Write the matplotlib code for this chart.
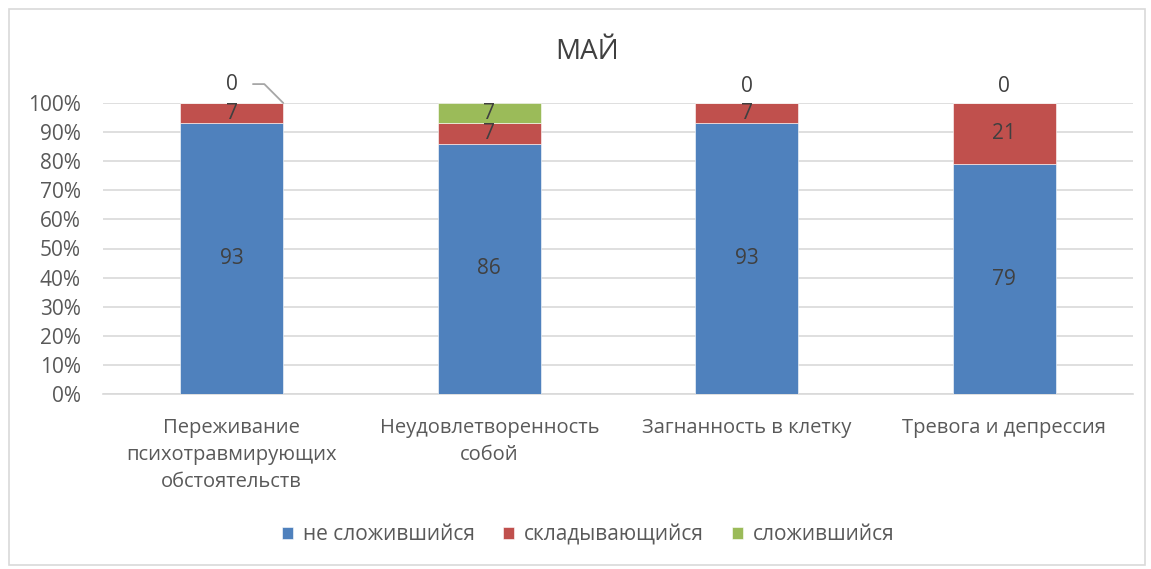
import matplotlib
matplotlib.use("Agg")
import matplotlib.pyplot as plt
from matplotlib.patches import Rectangle
import numpy as np

plt.rcParams['font.family'] = ['Open Sans', 'DejaVu Sans']

# данные
categories = ["Переживание\nпсихотравмирующих\nобстоятельств",
              "Неудовлетворенность\nсобой",
              "Загнанность в клетку",
              "Тревога и депрессия"]
series_names = ["не сложившийся", "складывающийся", "сложившийся"]
ne_slozh = [93, 86, 93, 79]
skladyv = [7, 7, 7, 21]
slozh = [0, 7, 0, 0]
colors = ["#4f81bd", "#c0504d", "#9bbb59"]

fig = plt.figure(figsize=(11.51, 5.69), dpi=100)
ax = fig.add_axes([103/1151, 1 - 394/569, 1030/1151, 291/569])

x = np.arange(len(categories))
data = np.array([ne_slozh, skladyv, slozh], dtype=float)
totals = data.sum(axis=0)
frac = data / totals

bottom = np.zeros(len(categories))
for i, name in enumerate(series_names):
    ax.bar(x, frac[i], 0.4, bottom=bottom, color=colors[i], label=name, zorder=3,
           edgecolor='white', linewidth=0.4)
    for j in range(len(categories)):
        v = data[i][j]
        if v > 0:
            ax.text(x[j], bottom[j] + frac[i][j] / 2, "%d" % v, ha='center', va='center',
                    fontsize=15, color='#404040', zorder=4)
    bottom += frac[i]

# нулевые подписи над столбцами
for j in range(len(categories)):
    if slozh[j] == 0:
        if j == 0:
            ax.annotate("0", xy=(x[j] + 0.2, 1.0), xytext=(x[j], 1.065),
                        ha='center', va='center', fontsize=15, color='#404040',
                        arrowprops=dict(arrowstyle='-', color='#a6a6a6', lw=1.3,
                                        connectionstyle='angle,angleA=0,angleB=135,rad=0',
                                        shrinkA=9, shrinkB=0), annotation_clip=False)
        else:
            ax.text(x[j], 1.055, "0", ha='center', va='center', fontsize=15, color='#404040')

ax.set_xlim(-0.5, len(categories) - 0.5)
ax.set_ylim(0, 1)
ax.set_yticks(np.arange(0, 1.01, 0.1))
ax.set_yticklabels(["%d%%" % round(t * 100) for t in np.arange(0, 1.01, 0.1)])
ax.set_xticks(x)
ax.set_xticklabels(categories, linespacing=1.48)
ax.tick_params(axis='both', length=0, labelsize=15, labelcolor='#595959')
ax.tick_params(axis='x', labelsize=14.5, pad=17)
ax.tick_params(axis='y', pad=16)
ax.yaxis.grid(True, color='#d9d9d9', lw=1.2, zorder=0)
for s in ['top', 'right', 'left']:
    ax.spines[s].set_visible(False)
ax.spines['bottom'].set_color('#d9d9d9')
ax.spines['bottom'].set_linewidth(1.2)

fig.text(587/1151, 1 - 52/569, "МАЙ", ha='center', va='center', fontsize=20, color='#404040')

fig.legend(loc='center', bbox_to_anchor=(588/1151, 1 - 535/569), ncol=3, frameon=False,
           fontsize=15, labelcolor='#595959', handlelength=0.55, handleheight=0.55,
           handletextpad=0.45, columnspacing=1.35)

fig.add_artist(Rectangle((9/1151, 4/569), 1136/1151, 556/569, transform=fig.transFigure,
                         fill=False, edgecolor='#d9d9d9', lw=1.2))

fig.savefig("out.png", dpi=100)
